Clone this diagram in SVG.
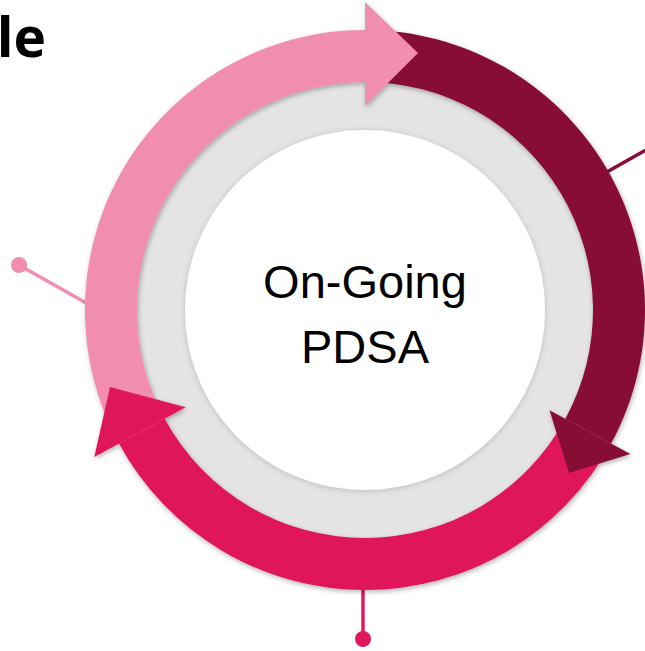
<svg xmlns="http://www.w3.org/2000/svg" width="645" height="651" viewBox="0 0 645 651">
  <defs>
    <filter id="shadow" x="-10%" y="-10%" width="120%" height="120%">
      <feDropShadow dx="1" dy="2" stdDeviation="2.5" flood-color="#000" flood-opacity="0.3"/>
    </filter>
    <filter id="softShadow" x="-10%" y="-10%" width="120%" height="120%">
      <feDropShadow dx="0" dy="1" stdDeviation="3" flood-color="#000" flood-opacity="0.18"/>
    </filter>
    <style>
      .pink { fill: #F28EAD; }
      .wine { fill: #870F36; }
      .rose { fill: #E0185B; }
      .lead { fill: none; stroke-width: 3.5; stroke-linecap: round; }
      .title { font-family: "Open Sans", "Liberation Sans", sans-serif; font-weight: bold; font-size: 55px; fill: #000; }
      .label { font-family: "Liberation Sans", Arial, sans-serif; font-size: 47px; fill: #000; text-anchor: middle; }
    </style>
  </defs>

  <rect width="645" height="651" fill="#fff"/>

  <!-- heading fragment -->
  <text class="title" x="46" y="57" text-anchor="end">le</text>

  <!-- leader lines with end dots -->
  <g id="connectors">
    <line class="lead" x1="19" y1="265" x2="95" y2="308" stroke="#F28EAD"/>
    <circle cx="19" cy="265" r="8" class="pink"/>
    <line class="lead" x1="598" y1="177" x2="660" y2="142" stroke="#870F36"/>
    <line class="lead" x1="363" y1="570" x2="363" y2="639" stroke="#E0185B"/>
    <circle cx="363" cy="639" r="8" class="rose"/>
  </g>

  <!-- gray backing ring and white hub -->
  <g id="hub">
    <circle cx="365" cy="310" r="232" fill="#E4E4E4" filter="url(#softShadow)"/>
    <circle cx="365" cy="310" r="180" fill="#FFFFFF" filter="url(#softShadow)"/>
    <text class="label" x="365" y="298">On-Going</text>
    <text class="label" x="365" y="363">PDSA</text>
  </g>

  <!-- cycle arrows: bodies first, heads on top -->
  <g id="cycle" filter="url(#shadow)">
    <g id="arrow-plan-body">
      <path class="pink" d="M118.94,443.62 A280,280 0 0 1 365,30 L365,82 A228,228 0 0 0 164.63,418.80 Z"/>
    </g>
    <g id="arrow-do-body">
      <path class="wine" d="M365,30 A280,280 0 0 1 611.06,443.62 L565.37,418.80 A228,228 0 0 0 365,82 Z"/>
    </g>
    <g id="arrow-study-body">
      <path class="rose" d="M611.06,443.62 A280,280 0 0 1 118.94,443.62 L164.63,418.80 A228,228 0 0 0 565.37,418.80 Z"/>
    </g>
    <g id="arrow-plan-head">
      <polygon class="pink" points="365,2 418,53 365,106"/>
    </g>
    <g id="arrow-do-head">
      <polygon class="wine" points="630.4,454.1 569,473 549.5,410.2"/>
    </g>
    <g id="arrow-study-head">
      <polygon class="rose" points="94.3,457 110,387 185.7,407.3"/>
    </g>
  </g>
</svg>
